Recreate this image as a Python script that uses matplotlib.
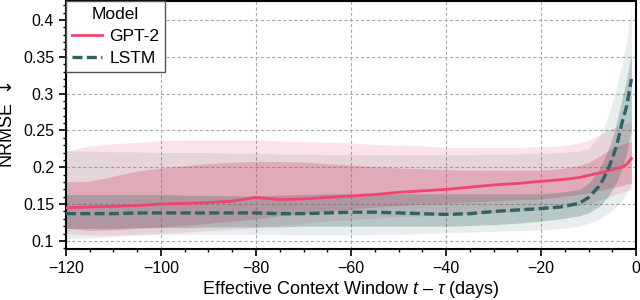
import matplotlib
matplotlib.use("Agg")
import matplotlib.pyplot as plt
from matplotlib.ticker import MultipleLocator, FuncFormatter

plt.rcParams['font.family'] = ['Liberation Sans', 'DejaVu Sans']
plt.rcParams['mathtext.fontset'] = 'custom'
plt.rcParams['mathtext.rm'] = 'DejaVu Sans'
plt.rcParams['mathtext.it'] = 'Liberation Sans:italic'

# days before forecast (effective context window t - tau)
days = [-120, -115, -110, -105, -100, -95, -90, -85, -80, -75, -70, -65, -60, -55,
        -50, -45, -40, -35, -30, -25, -20, -16, -12, -10, -8, -7, -6, -5, -4, -3, -2, -1]

# GPT-2 NRMSE: mean, inner band, outer band
gpt_mean = [0.145, 0.146, 0.147, 0.148, 0.150, 0.151, 0.152, 0.154, 0.159, 0.156, 0.157, 0.159,
            0.161, 0.163, 0.166, 0.168, 0.170, 0.173, 0.176, 0.178, 0.181, 0.183, 0.186, 0.189,
            0.192, 0.193, 0.195, 0.197, 0.199, 0.200, 0.204, 0.212]
gpt_in_hi = [0.180, 0.181, 0.188, 0.195, 0.199, 0.202, 0.205, 0.207, 0.208, 0.208, 0.207, 0.205,
             0.203, 0.201, 0.199, 0.198, 0.197, 0.196, 0.196, 0.196, 0.196, 0.198, 0.202, 0.207,
             0.214, 0.218, 0.222, 0.226, 0.229, 0.231, 0.233, 0.235]
gpt_in_lo = [0.117, 0.114, 0.115, 0.117, 0.119, 0.121, 0.124, 0.127, 0.130, 0.134, 0.137, 0.140,
             0.143, 0.146, 0.148, 0.150, 0.151, 0.153, 0.154, 0.156, 0.157, 0.160, 0.163, 0.165,
             0.168, 0.169, 0.171, 0.172, 0.174, 0.175, 0.177, 0.178]
gpt_out_hi = [0.222, 0.229, 0.232, 0.234, 0.236, 0.237, 0.237, 0.237, 0.237, 0.236, 0.235, 0.234,
              0.233, 0.231, 0.230, 0.229, 0.227, 0.227, 0.227, 0.227, 0.228, 0.229, 0.233, 0.237,
              0.243, 0.246, 0.250, 0.253, 0.256, 0.258, 0.260, 0.262]
gpt_out_lo = [0.110, 0.108, 0.108, 0.109, 0.110, 0.112, 0.114, 0.116, 0.118, 0.121, 0.124, 0.127,
              0.129, 0.131, 0.133, 0.134, 0.135, 0.137, 0.138, 0.140, 0.142, 0.145, 0.148, 0.151,
              0.155, 0.157, 0.159, 0.161, 0.164, 0.166, 0.168, 0.170]

# LSTM NRMSE: mean, inner band, outer band
lstm_mean = [0.137, 0.137, 0.137, 0.138, 0.138, 0.138, 0.138, 0.138, 0.138, 0.137, 0.137, 0.138,
             0.139, 0.139, 0.138, 0.137, 0.136, 0.137, 0.140, 0.142, 0.144, 0.146, 0.151, 0.159,
             0.173, 0.183, 0.196, 0.212, 0.232, 0.260, 0.283, 0.320]
lstm_in_hi = [0.163, 0.163, 0.163, 0.163, 0.163, 0.162, 0.162, 0.161, 0.161, 0.162, 0.163, 0.164,
              0.164, 0.164, 0.164, 0.164, 0.164, 0.164, 0.164, 0.164, 0.164, 0.166, 0.170, 0.178,
              0.195, 0.207, 0.222, 0.240, 0.265, 0.292, 0.320, 0.355]
lstm_in_lo = [0.117, 0.117, 0.117, 0.118, 0.118, 0.118, 0.119, 0.119, 0.119, 0.119, 0.120, 0.120,
              0.120, 0.120, 0.120, 0.120, 0.120, 0.121, 0.122, 0.124, 0.127, 0.130, 0.134, 0.138,
              0.146, 0.152, 0.160, 0.170, 0.182, 0.198, 0.220, 0.250]
lstm_out_hi = [0.222, 0.222, 0.221, 0.221, 0.220, 0.220, 0.220, 0.219, 0.219, 0.218, 0.218, 0.217,
               0.217, 0.217, 0.217, 0.217, 0.217, 0.217, 0.218, 0.218, 0.219, 0.220, 0.222, 0.226,
               0.240, 0.252, 0.268, 0.288, 0.312, 0.340, 0.370, 0.418]
lstm_out_lo = [0.103, 0.104, 0.106, 0.108, 0.109, 0.109, 0.109, 0.109, 0.109, 0.109, 0.108, 0.108,
               0.108, 0.109, 0.109, 0.110, 0.111, 0.112, 0.113, 0.114, 0.115, 0.117, 0.120, 0.124,
               0.129, 0.133, 0.137, 0.142, 0.148, 0.155, 0.165, 0.178]

gpt_col = '#f0456e'
lstm_col = '#2f6363'

fig = plt.figure(figsize=(6.4, 3.0), dpi=100)
ax = fig.add_axes([0.103, 0.17, 0.891, 0.827])

ax.fill_between(days, gpt_out_lo, gpt_out_hi, color=gpt_col, alpha=0.15, lw=0)
ax.fill_between(days, gpt_in_lo, gpt_in_hi, color=gpt_col, alpha=0.3, lw=0)
ax.fill_between(days, lstm_out_lo, lstm_out_hi, color=lstm_col, alpha=0.11, lw=0)
ax.fill_between(days, lstm_in_lo, lstm_in_hi, color=lstm_col, alpha=0.27, lw=0)

ax.plot(days, gpt_mean, color=gpt_col, lw=2, label='GPT-2', zorder=5)
ax.plot(days, lstm_mean, color=lstm_col, lw=2.4, ls=(0, (3, 1.3)), label='LSTM', zorder=5)

ax.set_xlim(-120, 0)
ax.set_ylim(0.089, 0.426)
ax.xaxis.set_major_locator(MultipleLocator(20))
ax.xaxis.set_minor_locator(MultipleLocator(5))
ax.yaxis.set_major_locator(MultipleLocator(0.05))
ax.yaxis.set_minor_locator(MultipleLocator(0.01))
ax.yaxis.set_major_formatter(FuncFormatter(lambda v, p: '%g' % round(v, 2)))

ax.tick_params(which='major', direction='out', length=5, width=1.2, labelsize=11.5)
ax.tick_params(which='minor', direction='out', length=2.5, width=1)
for s in ax.spines.values():
    s.set_linewidth(1.5)

ax.grid(True, which='major', color='#aaaaaa', ls=(0, (3, 2)), lw=0.8)
ax.set_axisbelow(True)

ax.set_xlabel('Effective Context Window $t$ \u2013 $\\tau$ (days)', fontsize=13, labelpad=2)
ax.set_ylabel('NRMSE $\\downarrow$', fontsize=13, labelpad=5)

leg = ax.legend(title='Model', loc='upper left', borderaxespad=0, fontsize=12.5,
                title_fontsize=12.5, fancybox=False, framealpha=1, edgecolor='#555555',
                handlelength=1.75, handletextpad=0.4, labelspacing=0.4, borderpad=0.35)
leg.get_frame().set_linewidth(1.0)

fig.savefig('out.png', dpi=100)
